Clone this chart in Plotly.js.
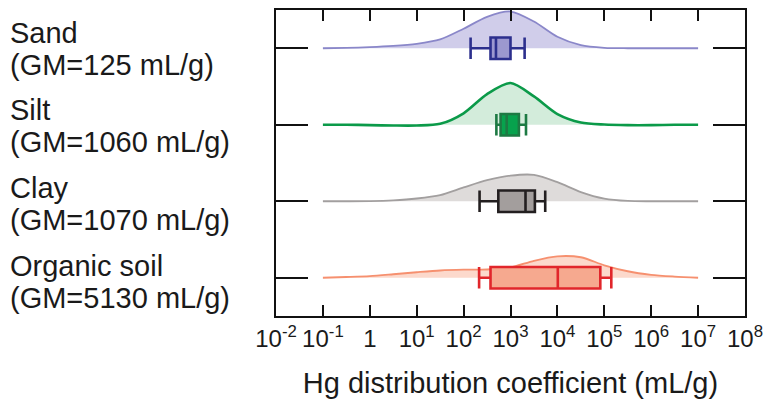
<!DOCTYPE html>
<html>
<head>
<meta charset="utf-8">
<script src="https://cdn.plot.ly/plotly-3.0.1.min.js"></script>
<style>
  html, body { margin: 0; padding: 0; background: #ffffff; }
  #chart { width: 769px; height: 410px; }
</style>
</head>
<body>
<div id="chart"></div>
<script>
// ---------------- data ----------------
const categories = ['Sand', 'Silt', 'Clay', 'Organic soil'];
const gmValues = ['125', '1060', '1070', '5130'];   // geometric means, mL/g

// density curves (half violins), sampled at these log10(Kd) positions
const logKd = [-1, -0.5, 0, 0.5, 1, 1.5, 2, 2.5, 3, 3.5, 4, 4.5, 5, 5.5, 6, 6.5, 7];
const densSand    = [0, 0.005, 0.014, 0.03, 0.058, 0.115, 0.255, 0.41, 0.48, 0.35, 0.15, 0.04, 0.006, 0, 0, 0, 0];
const densSilt    = [0, 0, -0.005, -0.01, -0.01, 0.012, 0.15, 0.40, 0.545, 0.37, 0.14, 0.03, 0.003, -0.005, -0.005, 0, 0];
const densClay    = [0, 0, 0.002, 0.012, 0.036, 0.08, 0.18, 0.275, 0.335, 0.345, 0.25, 0.12, 0.035, 0.004, 0, 0, 0];
const densOrganic = [0, 0.01, 0.022, 0.046, 0.072, 0.095, 0.105, 0.108, 0.135, 0.222, 0.28, 0.268, 0.163, 0.085, 0.039, 0.016, 0];

// box plot statistics (mL/g)
const lowerFence = [141, 500, 219, 214];
const q1Values   = [375, 615, 550, 375];
const medians    = [490, 830, 2090, 10200];
const q3Values   = [1000, 1510, 3310, 82200];
const upperFence = [2000, 2140, 5500, 141000];

// x-axis ticks
const tickValues = [1e-2, 1e-1, 1, 1e1, 1e2, 1e3, 1e4, 1e5, 1e6, 1e7, 1e8];
const tickLabels = ['10<sup>-2</sup>', '10<sup>-1</sup>', '1', '10<sup>1</sup>', '10<sup>2</sup>',
                    '10<sup>3</sup>', '10<sup>4</sup>', '10<sup>5</sup>', '10<sup>6</sup>',
                    '10<sup>7</sup>', '10<sup>8</sup>'];

// ---------------- styles ----------------
const densities = [densSand, densSilt, densClay, densOrganic];
const violinLine = ['#8a87c9', '#0b9a49', '#a29f9f', '#f6906f'];
const violinFill = ['#d0cdea', '#d3ecdb', '#dedbda', '#fcd9cc'];
const violinWidth = [1.8, 2.6, 1.8, 1.8];
const boxLine = ['#2c2f8d', '#1d7a43', '#231f20', '#e1262b'];
const boxFill = ['#9c98cf', '#07a24d', '#a39e9d', '#f6a98f'];
const labelShift = [0, 0, 2, 3];

const FONT = 'Arial, "Liberation Sans", sans-serif';
const xs = logKd.map(v => Math.pow(10, v));

const traces = [];
categories.forEach((cat, i) => {
  traces.push({
    type: 'scatter', mode: 'lines', x: xs, y: xs.map(() => i),
    line: { width: 0, color: violinLine[i] }, hoverinfo: 'skip', showlegend: false,
    xaxis: 'x', yaxis: 'y'
  });
  traces.push({
    type: 'scatter', mode: 'lines', x: xs, y: densities[i].map(d => i - d),
    line: { width: violinWidth[i], color: violinLine[i], shape: 'spline', smoothing: 0.8 },
    fill: 'tonexty', fillcolor: violinFill[i], showlegend: false, name: cat,
    xaxis: 'x', yaxis: 'y'
  });
});
categories.forEach((cat, i) => {
  traces.push({
    type: 'box', orientation: 'h', name: cat, y: [i],
    lowerfence: [lowerFence[i]], q1: [q1Values[i]], median: [medians[i]],
    q3: [q3Values[i]], upperfence: [upperFence[i]],
    width: 0.28, whiskerwidth: 1, boxpoints: false,
    line: { color: boxLine[i], width: 2.6 }, fillcolor: boxFill[i],
    showlegend: false, xaxis: 'x2', yaxis: 'y2'
  });
});

const annotations = [];
categories.forEach((cat, i) => {
  annotations.push({
    xref: 'paper', yref: 'y', x: -0.5714, y: i, xanchor: 'left', yanchor: 'middle',
    yshift: 15 - labelShift[i], text: cat, showarrow: false, align: 'left',
    font: { family: FONT, size: 29, color: '#1a1a1a' }
  });
  annotations.push({
    xref: 'paper', yref: 'y', x: -0.5714, y: i, xanchor: 'left', yanchor: 'middle',
    yshift: -17 - labelShift[i], text: '(GM=' + gmValues[i] + ' mL/g)', showarrow: false, align: 'left',
    font: { family: FONT, size: 29, color: '#1a1a1a' }
  });
});

const layout = {
  width: 769, height: 410,
  margin: { l: 276, r: 24, t: 10, b: 94 },
  paper_bgcolor: '#ffffff', plot_bgcolor: '#ffffff',
  showlegend: false, boxmode: 'overlay',
  font: { family: FONT, color: '#1a1a1a' },
  xaxis: {
    type: 'log', range: [-2, 8], tickvals: tickValues, ticktext: tickLabels,
    ticks: 'inside', ticklen: 11, tickwidth: 2, tickcolor: '#111',
    mirror: 'ticks', showline: true, linewidth: 2, linecolor: '#111',
    showgrid: false, zeroline: false,
    tickfont: { family: FONT, size: 24, color: '#1a1a1a' },
    title: { text: 'Hg distribution coefficient (mL/g)', standoff: 22,
             font: { family: FONT, size: 29, color: '#1a1a1a' } }
  },
  yaxis: {
    range: [3.5, -0.5], tickvals: [0, 1, 2, 3], showticklabels: false,
    ticks: 'inside', ticklen: 32, tickwidth: 2, tickcolor: '#111',
    mirror: 'ticks', showline: true, linewidth: 2, linecolor: '#111',
    showgrid: false, zeroline: false
  },
  xaxis2: { type: 'log', range: [-2, 8], overlaying: 'x', visible: false },
  yaxis2: { range: [3.5, -0.5], overlaying: 'y', visible: false },
  annotations: annotations
};

Plotly.newPlot('chart', traces, layout, { displayModeBar: false, staticPlot: true });
</script>
</body>
</html>
